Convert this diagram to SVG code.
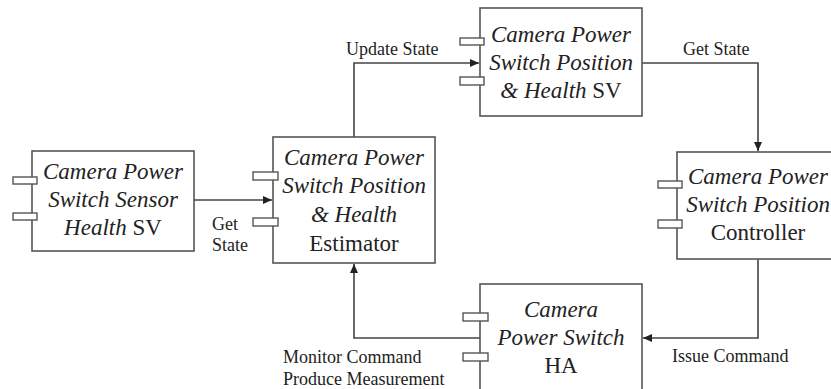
<svg xmlns="http://www.w3.org/2000/svg" width="831" height="389" viewBox="0 0 831 389">
<style>
.box{fill:#fff;stroke:#555;stroke-width:1.6}
.port{fill:#fff;stroke:#555;stroke-width:1.4}
.t{font-family:"Liberation Serif","Times New Roman",serif;font-size:23px;fill:#222;text-anchor:middle}
.i{font-style:italic}
.lbl{font-family:"Liberation Serif","Times New Roman",serif;font-size:18px;fill:#222}
.c{fill:none;stroke:#444;stroke-width:1.6}
</style>
<defs>
<marker id="arr" markerUnits="userSpaceOnUse" markerWidth="10" markerHeight="8" refX="9" refY="4" orient="auto">
<path d="M0,0 L9,4 L0,8 Z" fill="#222"/>
</marker>
</defs>
<rect width="831" height="389" fill="#fff"/>
<g id="connectors">
<path class="c" d="M194,200 H272" marker-end="url(#arr)"/>
<path class="c" d="M354,137 V63 H479" marker-end="url(#arr)"/>
<path class="c" d="M642,63 H758 V151" marker-end="url(#arr)"/>
<path class="c" d="M758,259 V338 H643" marker-end="url(#arr)"/>
<path class="c" d="M480,338 H354 V264" marker-end="url(#arr)"/>
<text class="lbl" x="212" y="230">Get</text>
<text class="lbl" x="212" y="251">State</text>
<text class="lbl" x="346" y="55">Update State</text>
<text class="lbl" x="683" y="55">Get State</text>
<text class="lbl" x="672" y="362">Issue Command</text>
<text class="lbl" x="283" y="363">Monitor Command</text>
<text class="lbl" x="283" y="385">Produce Measurement</text>
</g>
<g id="sensor-health-sv">
<rect class="box" x="32" y="151" width="162" height="100"/>
<rect class="port" x="13" y="177" width="24" height="7"/>
<rect class="port" x="13" y="213" width="24" height="7"/>
<text class="t i" x="113" y="179">Camera Power</text>
<text class="t i" x="113" y="207">Switch Sensor</text>
<text class="t" x="113" y="235"><tspan class="i">Health</tspan> SV</text>
</g>
<g id="estimator">
<rect class="box" x="273" y="137" width="162" height="126"/>
<rect class="port" x="253" y="172" width="25" height="8"/>
<rect class="port" x="253" y="218" width="25" height="8"/>
<text class="t i" x="354" y="165">Camera Power</text>
<text class="t i" x="354" y="193">Switch Position</text>
<text class="t i" x="354" y="222">&amp; Health</text>
<text class="t" x="354" y="251">Estimator</text>
</g>
<g id="position-health-sv">
<rect class="box" x="480" y="8" width="162" height="108"/>
<rect class="port" x="460" y="38" width="24" height="7"/>
<rect class="port" x="460" y="77" width="24" height="8"/>
<text class="t i" x="561" y="42">Camera Power</text>
<text class="t i" x="561" y="70">Switch Position</text>
<text class="t" x="561" y="98"><tspan class="i">&amp; Health</tspan> SV</text>
</g>
<g id="controller">
<rect class="box" x="677" y="152" width="162" height="107"/>
<rect class="port" x="658" y="181" width="24" height="7"/>
<rect class="port" x="658" y="220" width="24" height="8"/>
<text class="t i" x="758" y="184">Camera Power</text>
<text class="t i" x="758" y="212">Switch Position</text>
<text class="t" x="758" y="240">Controller</text>
</g>
<g id="power-switch-ha">
<rect class="box" x="480" y="284" width="162" height="120"/>
<rect class="port" x="463" y="313" width="25" height="8"/>
<rect class="port" x="463" y="353" width="25" height="8"/>
<text class="t i" x="561" y="317">Camera</text>
<text class="t i" x="561" y="345">Power Switch</text>
<text class="t" x="561" y="373">HA</text>
</g>
</svg>
